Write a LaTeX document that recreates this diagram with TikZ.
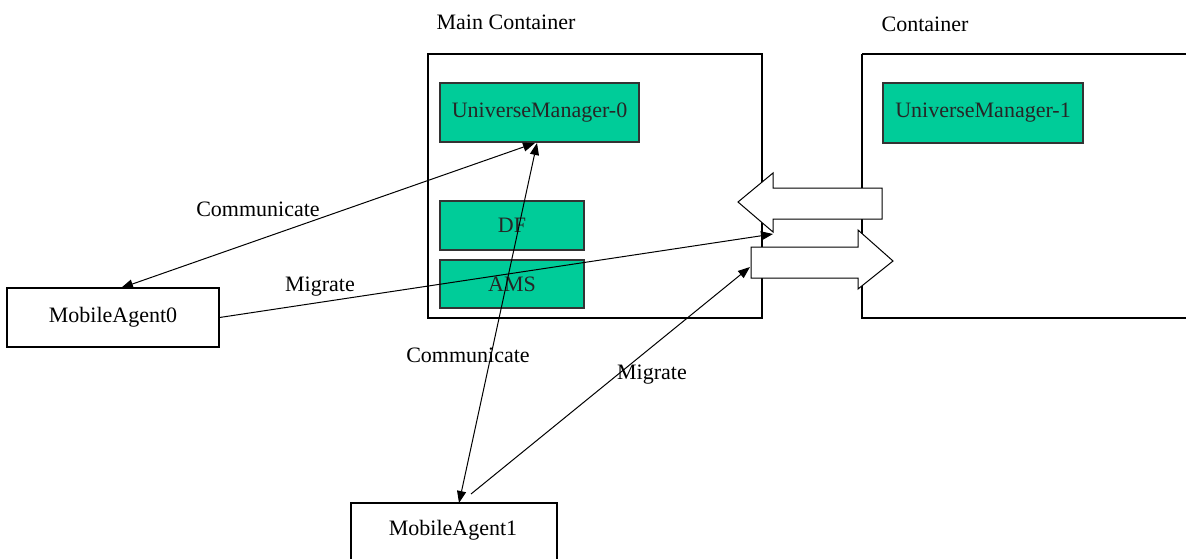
\documentclass[tikz,border=0pt]{standalone}
\usepackage{fontspec}
\setmainfont{Liberation Serif}
\usetikzlibrary{arrows.meta}
\definecolor{boxgreen}{RGB}{0,204,153}
\begin{document}
\begin{tikzpicture}[x=1pt,y=-1pt,
  every node/.style={font=\fontsize{22}{26}\selectfont},
  container/.style={draw=black,line width=1.2pt},
  agentbox/.style={draw=black,line width=1.2pt,fill=white,inner sep=0pt},
  greenbox/.style={draw=black!80,line width=1.2pt,fill=boxgreen,inner sep=0pt,text=black!85},
  blockarrow/.style={draw=black,line width=1pt,fill=white},
  conn/.style={line width=1pt,draw=black},
  tip/.style={-{Triangle[length=12pt,width=9pt]}},
  both/.style={{Triangle[length=12pt,width=9pt]}-{Triangle[length=12pt,width=9pt]}},
  lbl/.style={inner sep=0pt}]
\useasboundingbox (0,0) rectangle (1186,559);
\fill[white] (0,0) rectangle (1186,559);
% containers
\draw[container] (428,54) rectangle (762,318);
\draw[container] (862,54) -- (1200,54) (862,54) -- (862,318) -- (1200,318);
\node[lbl] (mclabel) at (506,22) {Main Container};
\node[lbl] (clabel) at (925,24) {Container};
% green boxes
\node[greenbox,minimum width=199pt,minimum height=59pt] (um0) at (539.5,112.5) {UniverseManager-0};
\node[greenbox,minimum width=144pt,minimum height=49pt] (df) at (512,225.5) {DF};
\node[greenbox,minimum width=144pt,minimum height=48pt] (ams) at (512,284) {AMS};
\node[greenbox,minimum width=200pt,minimum height=60pt] (um1) at (983,113) {UniverseManager-1};
% agents
\node[agentbox,minimum width=212pt,minimum height=59pt] (ma0) at (113,317.5) {MobileAgent0};
\node[agentbox,minimum width=206pt,minimum height=70pt] (ma1) at (454,538) {};
\node[lbl] (ma1text) at (453,530) {MobileAgent1};
% block arrows
\draw[blockarrow] (738,202) -- (773,173) -- (773,188) -- (882,188) -- (882,219) -- (773,219) -- (773,232) -- cycle;
\draw[blockarrow] (751,247) -- (858,247) -- (858,230) -- (893,261) -- (858,289) -- (858,278) -- (751,278) -- cycle;
% connector end points
\coordinate (umtipA) at (535,143);
\coordinate (umtipB) at (537,143);
\coordinate (ma0tip) at (121,288);
\coordinate (ma1tip) at (459,503);
\coordinate (ma1start) at (471,494);
\coordinate (inTip) at (773,234);
\coordinate (outTip) at (750,267);
% connectors
\draw[conn,both] (ma0tip) -- (umtipA);
\draw[conn,both] (ma1tip) -- (umtipB);
\draw[conn,tip] (ma0.east) -- (inTip);
\draw[conn,tip] (ma1start) -- (outTip);
% labels
\node[lbl] (lc1) at (258,209) {Communicate};
\node[lbl] (lm1) at (320,287) {Migrate};
\node[lbl] (lc2) at (468,355) {Communicate};
\node[lbl] (lm2) at (652,375) {Migrate};
\end{tikzpicture}
\end{document}
